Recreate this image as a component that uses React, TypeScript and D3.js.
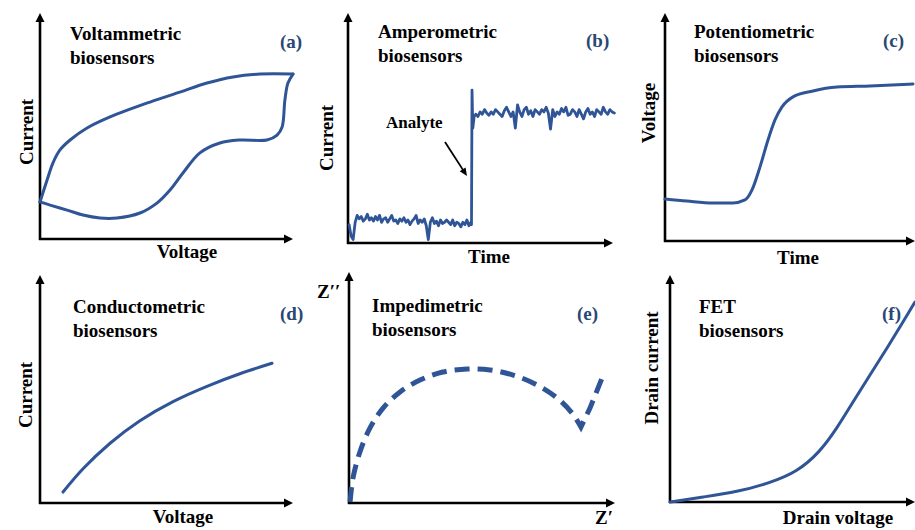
import React from "react";
import * as d3 from "d3";

// (a) cyclic voltammogram: forward (upper) and reverse (lower) sweep
const fwdVoltage = [0, 2.8, 5.1, 7.9, 11.9, 18.6, 27.7, 43.5, 55.3, 66, 76.3, 87, 100];
const fwdCurrent = [16.4, 26.1, 33.6, 39.4, 43.8, 49.1, 54, 60.6, 65, 69, 71.7, 73, 73];
const revVoltage = [100, 98, 96.8, 95.7, 93.7, 89.7, 79, 71.1, 63.2, 56.5, 51.4, 46.2, 39.5, 30.4, 23.7, 17, 10.7, 4, 0];
const revCurrent = [73, 69, 61.5, 49.6, 46, 43.8, 43.8, 42.5, 38.1, 29.2, 21.7, 15.9, 11.5, 9.3, 9.3, 10.6, 12.8, 15, 16.4];

// (b) amperometric trace: baseline, analyte step, plateau
const baseCurrent = [8, 3, 1.5, 9, 12, 10.5, 11.5, 9.5, 10.5, 12.5, 10, 11, 9.5, 11.5, 10, 12, 9, 10.5, 11, 9, 10.5, 12, 9.5, 10, 8.5, 10.5, 9.5, 11, 9, 10, 8, 9.5, 10.5, 12, 8.5, 10, 9, 10.5, 7.5, 1.5, 9, 11, 8.5, 9.5, 7.5, 10, 8.5, 9, 10, 9, 8, 10, 7.5, 9, 8.5, 7, 9, 8, 10, 7.5, 9];
const stepCurrent = [8, 66.5, 50, 55];
const plateauCurrent = [56, 55, 57, 56, 58, 56.5, 55.5, 57, 56, 58, 57, 56, 55, 57.5, 59, 57, 55, 57, 50, 60, 57, 55, 58, 59, 56, 57.5, 55, 58, 57, 56, 58, 57, 59, 56.5, 49.5, 58, 55, 57, 56, 58.5, 57, 59, 55.5, 56, 58, 57, 55, 58, 56, 54, 57, 58.5, 56, 57, 55, 58, 57, 56, 59, 57, 56, 58, 57, 56.5];
const baseSpan = [0.4, 46.4];
const stepTime = [46.6, 46.8, 47.1, 47.6];
const plateauSpan = [48.2, 100.5];

// (c) potentiometric response
const potTime = [0, 8.8, 19.2, 27.2, 32, 34.8, 38, 41.2, 44, 46.8, 51.2, 59.2, 68.8, 82, 99.2];
const potVoltage = [18.4, 17.5, 16.7, 16.7, 18, 22.4, 32.5, 44.3, 53.1, 58.8, 63.2, 65.8, 67.5, 68, 68.9];

// (d) conductometric
const condVoltage = [9.1, 17, 27.7, 39.5, 52.6, 66, 79, 91.7];
const condCurrent = [4.8, 15, 26.2, 36.1, 44.5, 51.2, 56.7, 61.3];

// (e) Nyquist plot: semicircle then diffusion tail
const arcZre = [0.4, 1.5, 4.1, 7.9, 12.8, 19.2, 26.7, 35.3, 44.4, 53, 61.7, 70.7, 78.2, 83.8, 87.2];
const arcZim = [0.4, 10.8, 22.1, 32.5, 41.1, 48.1, 53.2, 56.7, 58, 57.6, 55.4, 51.1, 45.5, 39, 32.9];
const tailZre = [90.6, 95.9];
const tailZim = [41.1, 56.3];

// (f) FET curve
const fetVoltage = [0, 13.5, 27.3, 40.8, 51.8, 61.2, 68.2, 74.7, 81.6, 88.6, 95.1, 100];
const fetCurrent = [0, 2.2, 4.4, 8.4, 13.2, 22, 32.6, 44.1, 55.9, 67.8, 79.3, 88.1];

const BLUE = "#2f5597";
const NAVY = "#2b4773";
const FONT = "'Liberation Serif', 'Times New Roman', serif";

type Box = { ox: number; oy: number; xt: number; yt: number };

function scales(b: Box) {
  const x = d3.scaleLinear().domain([0, 100]).range([b.ox, b.xt]);
  const y = d3.scaleLinear().domain([0, 100]).range([b.oy, b.yt]);
  return { x, y };
}

function Axes({ b }: { b: Box }) {
  const h = 9, w = 4.5;
  return (
    <g>
      <line x1={b.ox} y1={b.oy + 1} x2={b.ox} y2={b.yt + 4} stroke="#000" strokeWidth={2.6} />
      <line x1={b.ox - 1} y1={b.oy} x2={b.xt - 4} y2={b.oy} stroke="#000" strokeWidth={2.6} />
      <path d={`M${b.ox},${b.yt} L${b.ox - w},${b.yt + h} L${b.ox + w},${b.yt + h} Z`} fill="#000" />
      <path d={`M${b.xt},${b.oy} L${b.xt - h},${b.oy - w} L${b.xt - h},${b.oy + w} Z`} fill="#000" />
    </g>
  );
}

function Title({ x, y, lines }: { x: number; y: number; lines: string[] }) {
  return (
    <text x={x} y={y} fontFamily={FONT} fontWeight="bold" fontSize={19} fill="#000">
      {lines.map((l, i) => (
        <tspan key={i} x={x} dy={i === 0 ? 0 : 23.5}>{l}</tspan>
      ))}
    </text>
  );
}

function Tag({ x, y, t }: { x: number; y: number; t: string }) {
  return (
    <text x={x} y={y} fontFamily={FONT} fontWeight="bold" fontSize={19} fill={NAVY}>{t}</text>
  );
}

function XLabel({ x, y, t }: { x: number; y: number; t: string }) {
  return (
    <text x={x} y={y} textAnchor="middle" fontFamily={FONT} fontWeight="bold" fontSize={19}>{t}</text>
  );
}

function YLabel({ x, y, t }: { x: number; y: number; t: string }) {
  return (
    <text transform={`translate(${x},${y}) rotate(-90)`} textAnchor="middle" fontFamily={FONT} fontWeight="bold" fontSize={19}>{t}</text>
  );
}

function curvePath(b: Box, xs: number[], ys: number[], curve: d3.CurveFactory) {
  const { x, y } = scales(b);
  const pts = xs.map((v, i) => [v, ys[i]] as [number, number]);
  return d3.line<[number, number]>().x(d => x(d[0])).y(d => y(d[1])).curve(curve)(pts) || "";
}

export default function App() {
  const A: Box = { ox: 40, oy: 239, xt: 293, yt: 13 };
  const B: Box = { ox: 348, oy: 243, xt: 613, yt: 13 };
  const C: Box = { ox: 665, oy: 241, xt: 915, yt: 13 };
  const D: Box = { ox: 40, oy: 503, xt: 293, yt: 275 };
  const E: Box = { ox: 349, oy: 503, xt: 615, yt: 272 };
  const F: Box = { ox: 670, oy: 502, xt: 915, yt: 275 };

  // amperometric series: sample times spread evenly over each segment
  const baseT = d3.scaleLinear().domain([0, baseCurrent.length - 1]).range(baseSpan);
  const platT = d3.scaleLinear().domain([0, plateauCurrent.length - 1]).range(plateauSpan);
  const ampT = [
    ...baseCurrent.map((_, i) => baseT(i)),
    ...stepTime,
    ...plateauCurrent.map((_, i) => platT(i)),
  ];
  const ampI = [...baseCurrent, ...stepCurrent, ...plateauCurrent];

  const sb = scales(B);
  const se = scales(E);
  const arcD = curvePath(E, arcZre, arcZim, d3.curveCatmullRom);
  const tailD = tailZre.map((v, i) => `L${se.x(v)},${se.y(tailZim[i])}`).join("");

  // arrow pointing at the analyte addition
  const ax1 = sb.x(36.6), ay1 = sb.y(43.9), ax2 = sb.x(44.9), ay2 = sb.y(29.1);
  const ang = Math.atan2(ay2 - ay1, ax2 - ax1);
  const hl = 8, hw = 3.5;
  const head = `M${ax2},${ay2} L${ax2 - hl * Math.cos(ang) + hw * Math.sin(ang)},${ay2 - hl * Math.sin(ang) - hw * Math.cos(ang)} L${ax2 - hl * Math.cos(ang) - hw * Math.sin(ang)},${ay2 - hl * Math.sin(ang) + hw * Math.cos(ang)} Z`;

  const lineStyle = { fill: "none", stroke: BLUE, strokeWidth: 3, strokeLinecap: "round" as const, strokeLinejoin: "round" as const };

  return (
    <svg width={915} height={530} style={{ position: "absolute", left: 0, top: 0, background: "#fff" }}>
      {/* (a) */}
      <Axes b={A} />
      <path d={curvePath(A, fwdVoltage, fwdCurrent, d3.curveCatmullRom)} {...lineStyle} />
      <path d={curvePath(A, revVoltage, revCurrent, d3.curveCatmullRom)} {...lineStyle} />
      <Title x={70} y={40} lines={["Voltammetric", "biosensors"]} />
      <Tag x={280} y={48} t="(a)" />
      <YLabel x={33} y={132} t="Current" />
      <XLabel x={187} y={258} t="Voltage" />

      {/* (b) */}
      <Axes b={B} />
      <path d={curvePath(B, ampT, ampI, d3.curveLinear)} {...lineStyle} strokeWidth={2.8} />
      <Title x={378} y={38} lines={["Amperometric", "biosensors"]} />
      <Tag x={586} y={47} t="(b)" />
      <YLabel x={333} y={138} t="Current" />
      <XLabel x={489} y={263} t="Time" />
      <text x={386} y={128} fontFamily={FONT} fontWeight="bold" fontSize={17}>Analyte</text>
      <line x1={ax1} y1={ay1} x2={ax2 - 5 * Math.cos(ang)} y2={ay2 - 5 * Math.sin(ang)} stroke="#000" strokeWidth={1.8} />
      <path d={head} fill="#000" />

      {/* (c) */}
      <Axes b={C} />
      <path d={curvePath(C, potTime, potVoltage, d3.curveMonotoneX)} {...lineStyle} />
      <Title x={694} y={38} lines={["Potentiometric", "biosensors"]} />
      <Tag x={883} y={47} t="(c)" />
      <YLabel x={655} y={113} t="Voltage" />
      <XLabel x={798} y={264} t="Time" />

      {/* (d) */}
      <Axes b={D} />
      <path d={curvePath(D, condVoltage, condCurrent, d3.curveNatural)} {...lineStyle} />
      <Title x={73} y={313} lines={["Conductometric", "biosensors"]} />
      <Tag x={280} y={320} t="(d)" />
      <YLabel x={32} y={395} t="Current" />
      <XLabel x={183} y={523} t="Voltage" />

      {/* (e) */}
      <Axes b={E} />
      <path d={arcD + tailD} fill="none" stroke={BLUE} strokeWidth={5} strokeDasharray="15,8" />
      <Title x={372} y={312} lines={["Impedimetric", "biosensors"]} />
      <Tag x={577} y={320} t="(e)" />
      <text x={317} y={298} fontFamily={FONT} fontWeight="bold" fontSize={19}>Z′′</text>
      <text x={595} y={524} fontFamily={FONT} fontWeight="bold" fontSize={19}>Z′</text>

      {/* (f) */}
      <Axes b={F} />
      <path d={curvePath(F, fetVoltage, fetCurrent, d3.curveBasis)} {...lineStyle} />
      <Title x={699} y={313} lines={["FET", "biosensors"]} />
      <Tag x={882} y={320} t="(f)" />
      <YLabel x={658} y={368} t="Drain current" />
      <XLabel x={838} y={524} t="Drain voltage" />
    </svg>
  );
}
